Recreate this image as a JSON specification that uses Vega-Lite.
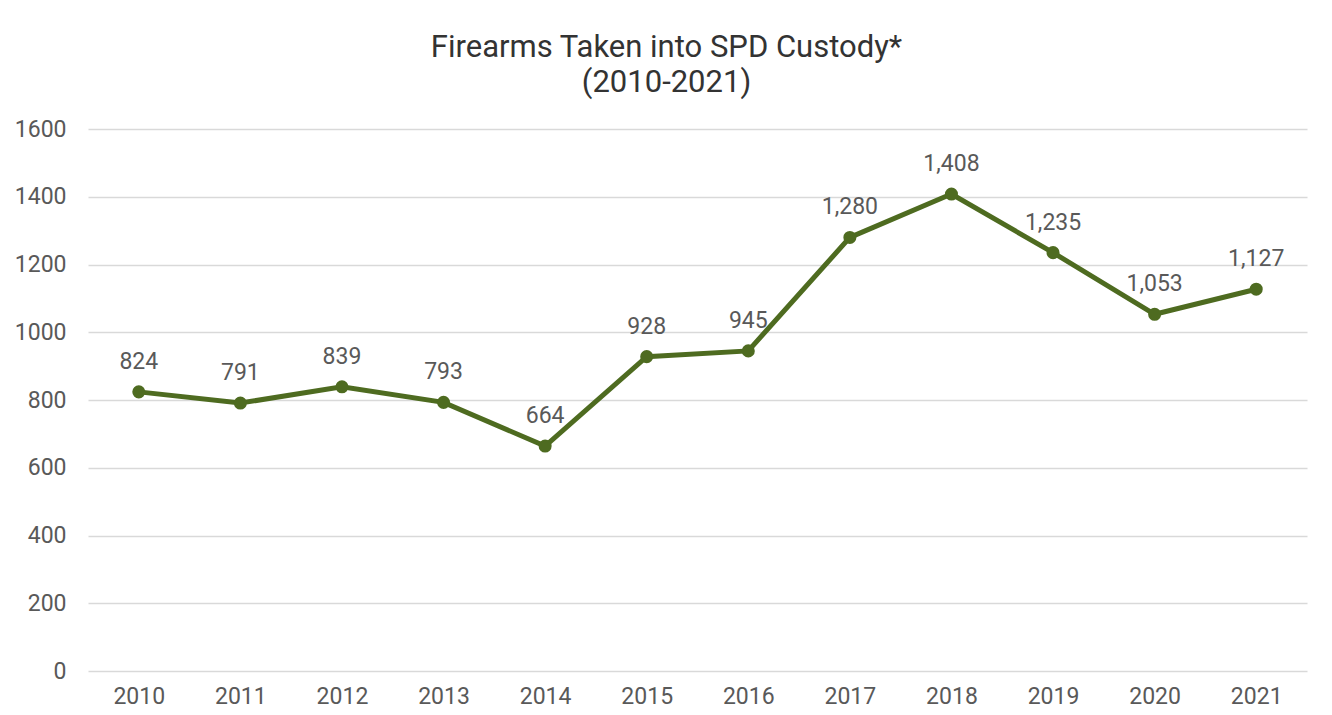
{
  "$schema": "https://vega.github.io/schema/vega-lite/v6.json",
  "autosize": "none",
  "width": 1219,
  "height": 542,
  "padding": {"left": 88, "top": 129, "right": 25, "bottom": 44},
  "background": "white",
  "config": {"view": {"stroke": null}, "font": "Roboto"},
  "title": {
    "text": ["Firearms Taken into SPD Custody*", "(2010-2021)"],
    "fontSize": 31,
    "font": "Roboto",
    "fontWeight": "normal",
    "color": "#333333",
    "lineHeight": 35,
    "anchor": "middle",
    "dx": -31,
    "offset": 19
  },
  "data": {
    "values": [
      {"year": "2010", "count": 824},
      {"year": "2011", "count": 791},
      {"year": "2012", "count": 839},
      {"year": "2013", "count": 793},
      {"year": "2014", "count": 664},
      {"year": "2015", "count": 928},
      {"year": "2016", "count": 945},
      {"year": "2017", "count": 1280},
      {"year": "2018", "count": 1408},
      {"year": "2019", "count": 1235},
      {"year": "2020", "count": 1053},
      {"year": "2021", "count": 1127}
    ]
  },
  "encoding": {
    "x": {
      "field": "year", "type": "ordinal",
      "scale": {"type": "point", "padding": 0.5},
      "axis": {"title": null, "labelAngle": 0, "labelFontSize": 23, "labelColor": "#595959", "labelFont": "Roboto", "domain": false, "ticks": false, "labelPadding": 14}
    },
    "y": {
      "field": "count", "type": "quantitative",
      "scale": {"domain": [0, 1600], "nice": false},
      "axis": {"title": null, "format": "d", "values": [0, 200, 400, 600, 800, 1000, 1200, 1400, 1600], "labelFontSize": 23, "labelColor": "#595959", "labelFont": "Roboto", "domain": false, "ticks": false, "labelPadding": 22, "gridColor": "#d9d9d9", "gridWidth": 1.5}
    }
  },
  "layer": [
    {"mark": {"type": "line", "color": "#4e6b20", "strokeWidth": 5}},
    {"mark": {"type": "point", "filled": true, "opacity": 1, "color": "#4e6b20", "size": 170}},
    {
      "mark": {"type": "text", "fontSize": 23, "color": "#595959", "font": "Roboto", "baseline": "alphabetic", "dy": -23},
      "encoding": {"text": {"field": "count", "type": "quantitative", "format": ","}}
    }
  ]
}
